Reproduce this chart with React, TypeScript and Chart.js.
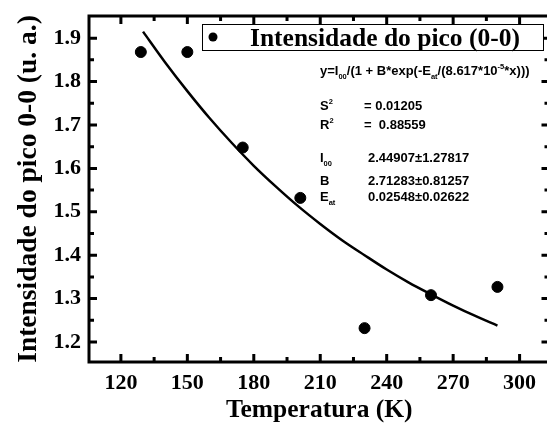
import React, { useEffect, useRef } from "react";
import { Chart, registerables } from "chart.js";

Chart.register(...registerables);

// ---- data ----
const tempK = [129, 150, 175, 201, 230, 260, 290];
const intensity = [1.868, 1.868, 1.648, 1.532, 1.232, 1.308, 1.327];

const fitX = [130, 140, 150, 160, 170, 180, 190, 200, 210, 220, 230, 240, 250, 260, 270, 280, 290];
const fitY = [1.915, 1.844, 1.778, 1.716, 1.659, 1.606, 1.558, 1.513, 1.472, 1.434, 1.400, 1.367, 1.337, 1.310, 1.284, 1.260, 1.238];

const xTicks = [120, 150, 180, 210, 240, 270, 300];
const xMinor = [105, 135, 165, 195, 225, 255, 285];
const yTicks = [1.2, 1.3, 1.4, 1.5, 1.6, 1.7, 1.8, 1.9];
const yMinor = [1.15, 1.25, 1.35, 1.45, 1.55, 1.65, 1.75, 1.85];

const legendLabel = "Intensidade do pico (0-0)";
const xTitle = "Temperatura (K)";
const yTitle = "Intensidade do pico 0-0 (u. a.)";

const SERIF = "'Liberation Serif', 'Times New Roman', serif";
const SANS = "'Liberation Sans', Arial, sans-serif";

const framePlugin = {
  id: "frameTicks",
  afterDatasetsDraw(chart: any) {
    const { ctx, chartArea: a, scales } = chart;
    const xs = scales.x;
    const ys = scales.y;
    ctx.save();
    ctx.strokeStyle = "#000";
    ctx.lineCap = "butt";
    const drawX = (vals: number[], len: number) => {
      ctx.lineWidth = 3;
      vals.forEach((v) => {
        const px = xs.getPixelForValue(v);
        if (px < a.left + 2 || px > a.right - 2) return;
        ctx.beginPath();
        ctx.moveTo(px, a.bottom);
        ctx.lineTo(px, a.bottom - len);
        ctx.moveTo(px, a.top);
        ctx.lineTo(px, a.top + len);
        ctx.stroke();
      });
    };
    const drawY = (vals: number[], len: number) => {
      ctx.lineWidth = 3;
      vals.forEach((v) => {
        const py = ys.getPixelForValue(v);
        if (py < a.top + 2 || py > a.bottom - 2) return;
        ctx.beginPath();
        ctx.moveTo(a.left, py);
        ctx.lineTo(a.left + len, py);
        ctx.moveTo(a.right, py);
        ctx.lineTo(a.right - len, py);
        ctx.stroke();
      });
    };
    drawX(xTicks, 8);
    drawX(xMinor, 5);
    drawY(yTicks, 8);
    drawY(yMinor, 5);
    ctx.lineWidth = 3;
    ctx.strokeRect(a.left, a.top, a.right - a.left, a.bottom - a.top);

    // legend box
    const bx = 202, by = 24, bw = 341, bh = 26;
    ctx.fillStyle = "#fff";
    ctx.fillRect(bx, by, bw, bh);
    ctx.lineWidth = 1;
    ctx.strokeRect(bx + 0.5, by + 0.5, bw, bh);
    ctx.fillStyle = "#000";
    ctx.beginPath();
    ctx.arc(213, 37, 4.5, 0, Math.PI * 2);
    ctx.fill();
    ctx.font = `bold 25.5px ${SERIF}`;
    ctx.textBaseline = "alphabetic";
    ctx.textAlign = "left";
    ctx.fillText(legendLabel, 250, 46);

    // fit annotation
    const sansB = (s: number) => `bold ${s}px ${SANS}`;
    const drawRuns = (x: number, y: number, runs: [string, number][]) => {
      let cx = x;
      runs.forEach(([t, kind]) => {
        const size = kind === 0 ? 13 : 7.5;
        const dy = kind === 1 ? 4 : kind === 2 ? -6 : 0;
        ctx.font = sansB(size);
        ctx.fillText(t, cx, y + dy);
        cx += ctx.measureText(t).width;
      });
    };
    drawRuns(320, 75, [["y=I", 0], ["00", 1], ["/(1 + B*exp(-E", 0], ["at", 1], ["/(8.617*10", 0], ["-5", 2], ["*x)))", 0]]);
    drawRuns(320, 110, [["S", 0], ["2", 2]]);
    drawRuns(364, 110, [["= 0.01205", 0]]);
    drawRuns(320, 129, [["R", 0], ["2", 2]]);
    drawRuns(364, 129, [["=  0.88559", 0]]);
    drawRuns(320, 162, [["I", 0], ["00", 1]]);
    drawRuns(368, 162, [["2.44907\u00b11.27817", 0]]);
    drawRuns(320, 185, [["B", 0]]);
    drawRuns(368, 185, [["2.71283\u00b10.81257", 0]]);
    drawRuns(320, 201, [["E", 0], ["at", 1]]);
    drawRuns(368, 201, [["0.02548\u00b10.02622", 0]]);
    ctx.restore();
  },
};

export default function App() {
  const ref = useRef<HTMLCanvasElement>(null);
  useEffect(() => {
    document.body.style.margin = "0";
    const chart = new Chart(ref.current!, {
      type: "scatter",
      data: {
        datasets: [
          {
            label: legendLabel,
            data: tempK.map((x, i) => ({ x, y: intensity[i] })),
            backgroundColor: "#000",
            borderColor: "#000",
            pointRadius: 5.5,
            pointHoverRadius: 5.5,
            showLine: false,
          },
          {
            label: "fit",
            data: fitX.map((x, i) => ({ x, y: fitY[i] })),
            showLine: true,
            borderColor: "#000",
            borderWidth: 2.5,
            pointRadius: 0,
            tension: 0.4,
            cubicInterpolationMode: "monotone",
          } as any,
        ],
      },
      options: {
        responsive: false,
        animation: false,
        events: [],
        layout: { padding: { left: 0, top: 16, right: 5, bottom: 0 } },
        plugins: { legend: { display: false }, tooltip: { enabled: false } },
        scales: {
          x: {
            type: "linear",
            min: 105.6,
            max: 313.5,
            afterBuildTicks: (s: any) => {
              s.ticks = xTicks.map((v) => ({ value: v }));
            },
            afterFit: (s: any) => {
              s.height = 64;
              s.paddingLeft = 0;
              s.paddingRight = 0;
            },
            grid: { display: false, drawTicks: false },
            border: { display: false },
            ticks: {
              color: "#000",
              padding: 8,
              font: { family: SERIF, size: 22, weight: "bold" },
              maxRotation: 0,
              autoSkip: false,
            },
            title: {
              display: true,
              text: xTitle,
              color: "#000",
              font: { family: SERIF, size: 25.5, weight: "bold" },
              padding: { top: 0, bottom: 0 },
            },
          },
          y: {
            type: "linear",
            min: 1.154,
            max: 1.951,
            afterBuildTicks: (s: any) => {
              s.ticks = yTicks.map((v) => ({ value: v }));
            },
            afterFit: (s: any) => {
              s.width = 89;
              s.paddingTop = 0;
              s.paddingBottom = 0;
            },
            grid: { display: false, drawTicks: false },
            border: { display: false },
            ticks: {
              color: "#000",
              padding: 8,
              font: { family: SERIF, size: 22, weight: "bold" },
              callback: (v: any) => Number(v).toFixed(1),
            },
            title: {
              display: true,
              text: yTitle,
              color: "#000",
              font: { family: SERIF, size: 27.5, weight: "bold" },
              padding: { top: 12, bottom: 0 },
            },
          },
        },
      },
      plugins: [framePlugin],
    });
    return () => chart.destroy();
  }, []);
  return (
    <div style={{ position: "fixed", left: 0, top: 0, width: 547, height: 426, overflow: "hidden", background: "#fff" }}>
      <canvas ref={ref} width={556} height={426} style={{ width: 556, height: 426, display: "block" }} />
    </div>
  );
}
